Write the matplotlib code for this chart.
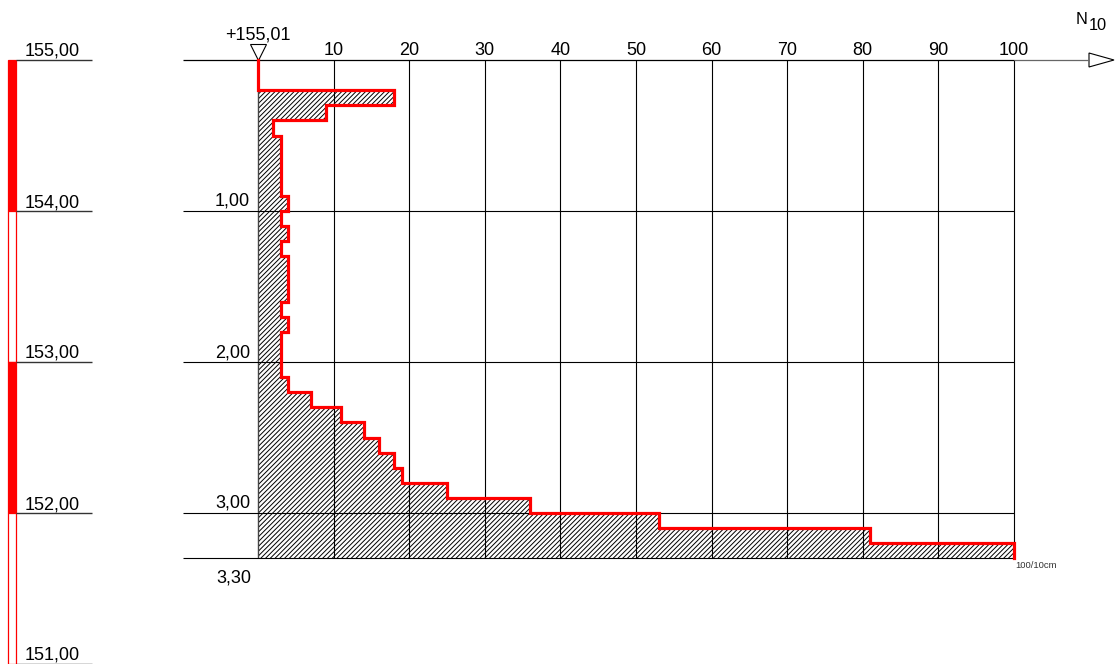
import numpy as np
import matplotlib.pyplot as plt
from matplotlib.patches import Polygon

plt.rcParams["font.family"] = ["Liberation Sans", "DejaVu Sans"]
plt.rcParams["hatch.linewidth"] = 0.7

# dynamic probing: blows N10 per 10 cm step, step tops in m below ground
depth_top = [0.0, 0.1, 0.2, 0.3, 0.4, 0.5, 0.6, 0.7, 0.8, 0.9,
             1.0, 1.1, 1.2, 1.3, 1.4, 1.5, 1.6, 1.7, 1.8, 1.9,
             2.0, 2.1, 2.2, 2.3, 2.4, 2.5, 2.6, 2.7, 2.8, 2.9,
             3.0, 3.1, 3.2]
blows = [0, 0, 18, 9, 2, 3, 3, 3, 3, 4,
         3, 4, 3, 4, 4, 4, 3, 4, 3, 3,
         3, 4, 7, 11, 14, 16, 18, 19, 25, 36,
         53, 81, 100]
final_depth = 3.30
ground_label = "+155,01"

n_ticks = [10, 20, 30, 40, 50, 60, 70, 80, 90, 100]
depth_ticks = [1.0, 2.0, 3.0]
depth_tick_labels = ["1,00", "2,00", "3,00"]
final_depth_label = "3,30"

ruler_top = 155.00
elevations = [155, 154, 153, 152, 151]
elevation_labels = ["155,00", "154,00", "153,00", "152,00", "151,00"]

# drawing scale (pixels on the sheet)
W, H = 1115, 664
X0_PX, PX_PER_N = 258, 7.56
Y0_PX, PX_PER_M = 60, 151.0

fig = plt.figure(figsize=(W / 100, H / 100), dpi=100)
ax = fig.add_axes([0, 0, 1, 1])
ax.set_xlim(-X0_PX / PX_PER_N, (W - X0_PX) / PX_PER_N)
ax.set_ylim((H - Y0_PX) / PX_PER_M, -Y0_PX / PX_PER_M)
ax.axis("off")

px_n = 1 / PX_PER_N   # one pixel in N units
px_m = 1 / PX_PER_M   # one pixel in metres
fs = 13

# grid
left_x = -75 * px_n
ax.vlines(n_ticks, 0, final_depth, color="black", lw=0.8)
ax.vlines(0, 0, final_depth, color="#444444", lw=1.0)
ax.hlines(depth_ticks + [final_depth], left_x, n_ticks[-1], color="black", lw=0.8)
ax.hlines(0, left_x, n_ticks[-1], color="black", lw=0.9)
arrow_base = n_ticks[-1] + 75 * px_n
ax.hlines(0, n_ticks[-1], arrow_base, color="#666666", lw=0.9)
ax.add_patch(Polygon([(arrow_base, -7 * px_m), (arrow_base + 25 * px_n, 0),
                      (arrow_base, 7 * px_m)], closed=True, fc="white",
                     ec="black", lw=0.8, clip_on=False))
ax.text(arrow_base - 13 * px_n, -36 * px_m, "N", fontsize=11.8, ha="left", va="baseline")
ax.text(arrow_base - 0.5 * px_n, -30 * px_m, "10", fontsize=11.8, ha="left", va="baseline")

# hatched area and red profile
tops = np.array(depth_top)
bottoms = np.append(tops[1:], final_depth)
ax.fill_betweenx(np.append(tops, final_depth), 0, blows + [blows[-1]], step="post",
                 facecolor="none", edgecolor="black", hatch="///////", lw=0)
ax.plot(np.repeat(blows, 2), np.column_stack([tops, bottoms]).ravel(),
        color="#ff0000", lw=2.3, solid_joinstyle="miter", zorder=5)

# labels
for n in n_ticks:
    ax.text(n, -5 * px_m, str(n), fontsize=fs, ha="center", va="baseline")
ax.text(0, -20 * px_m, ground_label, fontsize=fs, ha="center", va="baseline")
ax.plot(0, -8.5 * px_m, marker="v", markersize=11, mfc="white", mec="black", mew=0.8)
for d, lab in zip(depth_ticks, depth_tick_labels):
    ax.text(-8 * px_n, d - 5 * px_m, lab, fontsize=fs, ha="right", va="baseline")
ax.text(-7 * px_n, final_depth + 24 * px_m, final_depth_label, fontsize=fs,
        ha="right", va="baseline")
ax.text(n_ticks[-1] + 1 * px_n, final_depth + 3 * px_m, "100/10cm", fontsize=6.8,
        color="#333333", ha="left", va="top")

# elevation ruler on the left
ruler_depths = [ruler_top - e for e in elevations]
ruler_x = -250 * px_n
ax.bar(ruler_x, 1.0, bottom=ruler_depths[:-1], width=8 * px_n, align="edge",
       color=["#ff0000", "white", "#ff0000", "white"], edgecolor="#ff0000", lw=0.9)
ax.hlines(ruler_depths, ruler_x + 8 * px_n, ruler_x + 84 * px_n, color="#333333", lw=1.0)
for d, lab in zip(ruler_depths, elevation_labels):
    ax.text(ruler_x + 17 * px_n, d - 4 * px_m, lab, fontsize=fs, ha="left", va="baseline")

fig.savefig("out.png", dpi=100)
